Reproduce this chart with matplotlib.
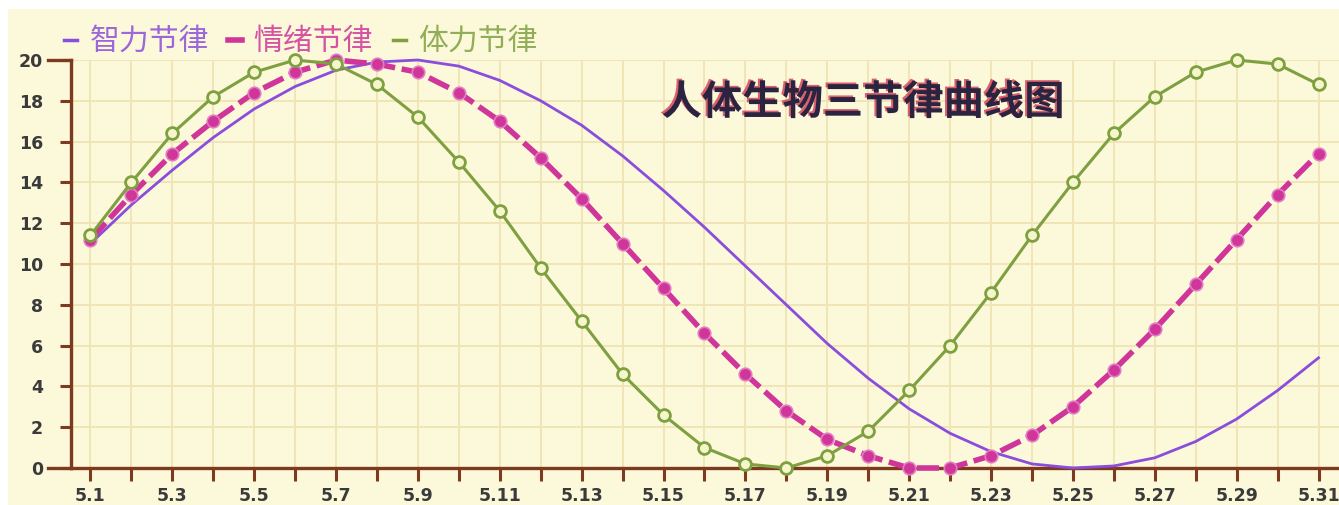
import matplotlib
matplotlib.use("Agg")
import matplotlib.pyplot as plt
import matplotlib.patheffects as pe
from matplotlib.lines import Line2D
from matplotlib.patches import Rectangle

plt.rcParams['font.family'] = ['Noto Sans CJK SC', 'DejaVu Sans']

# data (days of May)
days = list(range(1, 32))
tick_labels = [f"5.{d}" if d % 2 == 1 else "" for d in days]
y_ticks = list(range(0, 21, 2))

intellect = [11.0, 12.9, 14.6, 16.2, 17.6, 18.7, 19.5, 19.9, 20.0, 19.7,
             19.0, 18.0, 16.8, 15.3, 13.6, 11.8, 9.9, 8.0, 6.1, 4.4,
             2.9, 1.7, 0.8, 0.2, 0.0, 0.1, 0.5, 1.3, 2.4, 3.8, 5.4]
emotion = [11.2, 13.4, 15.4, 17.0, 18.4, 19.4, 20.0, 19.8, 19.4, 18.4,
           17.0, 15.2, 13.2, 11.0, 8.8, 6.6, 4.6, 2.8, 1.4, 0.6,
           0.0, 0.0, 0.6, 1.6, 3.0, 4.8, 6.8, 9.0, 11.2, 13.4, 15.4]
physical = [11.4, 14.0, 16.4, 18.2, 19.4, 20.0, 19.8, 18.8, 17.2, 15.0,
            12.6, 9.8, 7.2, 4.6, 2.6, 1.0, 0.2, 0.0, 0.6, 1.8,
            3.8, 6.0, 8.6, 11.4, 14.0, 16.4, 18.2, 19.4, 20.0, 19.8, 18.8]

series_names = ["智力节律", "情绪节律", "体力节律"]
title = "人体生物三节律曲线图"

cream = "#FBF9DA"
grid_c = "#EFE5B6"
axis_c = "#7E3A1E"
purple = "#8B4DDB"
magenta = "#D0359A"
green = "#7FA040"

W, H = 1339, 505
fig = plt.figure(figsize=(W / 100, H / 100), dpi=100, facecolor="white")
fig.patches.append(Rectangle((8 / W, 0), 1, (H - 9) / H, transform=fig.transFigure,
                             facecolor=cream, edgecolor="none", zorder=-1))

left, bottom, top = 71, 468, 60
ax = fig.add_axes([left / W, (H - bottom) / H, (W - left) / W, (bottom - top) / H])
ax.set_facecolor(cream)
ax.set_xlim(0.525, 31.5)
ax.set_ylim(0, 20)

ax.set_xticks(days)
ax.set_xticklabels(tick_labels)
ax.set_yticks(y_ticks)
ax.grid(True, color=grid_c, lw=1.4, zorder=0)
ax.set_axisbelow(True)

for s in ("top", "right"):
    ax.spines[s].set_visible(False)
for s in ("left", "bottom"):
    ax.spines[s].set_color(axis_c)
    ax.spines[s].set_linewidth(2.4)

ax.tick_params(axis="x", direction="out", length=9, width=2.2, color=axis_c,
               pad=5, labelsize=12.5, labelcolor="#3a3a3a")
ax.tick_params(axis="y", direction="out", length=8, width=2.2, color=axis_c,
               pad=12, labelsize=12.5, labelcolor="#3a3a3a")
for lab in ax.get_xticklabels() + ax.get_yticklabels():
    lab.set_fontweight("bold")
    lab.set_family("DejaVu Sans")

# longer stubs at 0 and 20 on the left
trans = ax.get_yaxis_transform()
for yv in (0, 20):
    ax.add_line(Line2D([-0.018, 0], [yv, yv], transform=trans, color=axis_c,
                       lw=2.4, clip_on=False))

ax.plot(days, intellect, color=purple, lw=2.0, zorder=3, clip_on=False)
ax.plot(days, emotion, color=magenta, lw=4, dashes=(4, 1.2), marker="o",
        markersize=9, markerfacecolor=magenta, markeredgecolor="#E27CC4",
        markeredgewidth=1.2, zorder=4, clip_on=False)
ax.plot(days, physical, color=green, lw=2.2, marker="o", markersize=8.5,
        markerfacecolor="#F6F6CC", markeredgecolor=green, markeredgewidth=2,
        zorder=5, clip_on=False)

handles = [Line2D([], [], color=purple, lw=2.5),
           Line2D([], [], color=magenta, lw=4),
           Line2D([], [], color=green, lw=2.5)]
leg = fig.legend(handles, series_names, loc="upper left",
                 bbox_to_anchor=(64 / W, 1 - 26 / H), ncol=3, frameon=False,
                 fontsize=21.5, handlelength=0.45, handletextpad=0.4,
                 columnspacing=0.65, borderaxespad=0, borderpad=0)
for txt, c in zip(leg.get_texts(), (purple, magenta, green)):
    txt.set_color(c)
    txt.set_alpha(0.85)

fig.text(863 / W, 1 - 103 / H, title, ha="center", va="center", fontsize=29,
         fontweight="bold", color="#2B2440",
         path_effects=[pe.withSimplePatchShadow(offset=(-1.5, 1.2),
                                                shadow_rgbFace="#D02040",
                                                alpha=0.7)])

fig.savefig("out.png", dpi=100, facecolor=fig.get_facecolor())
